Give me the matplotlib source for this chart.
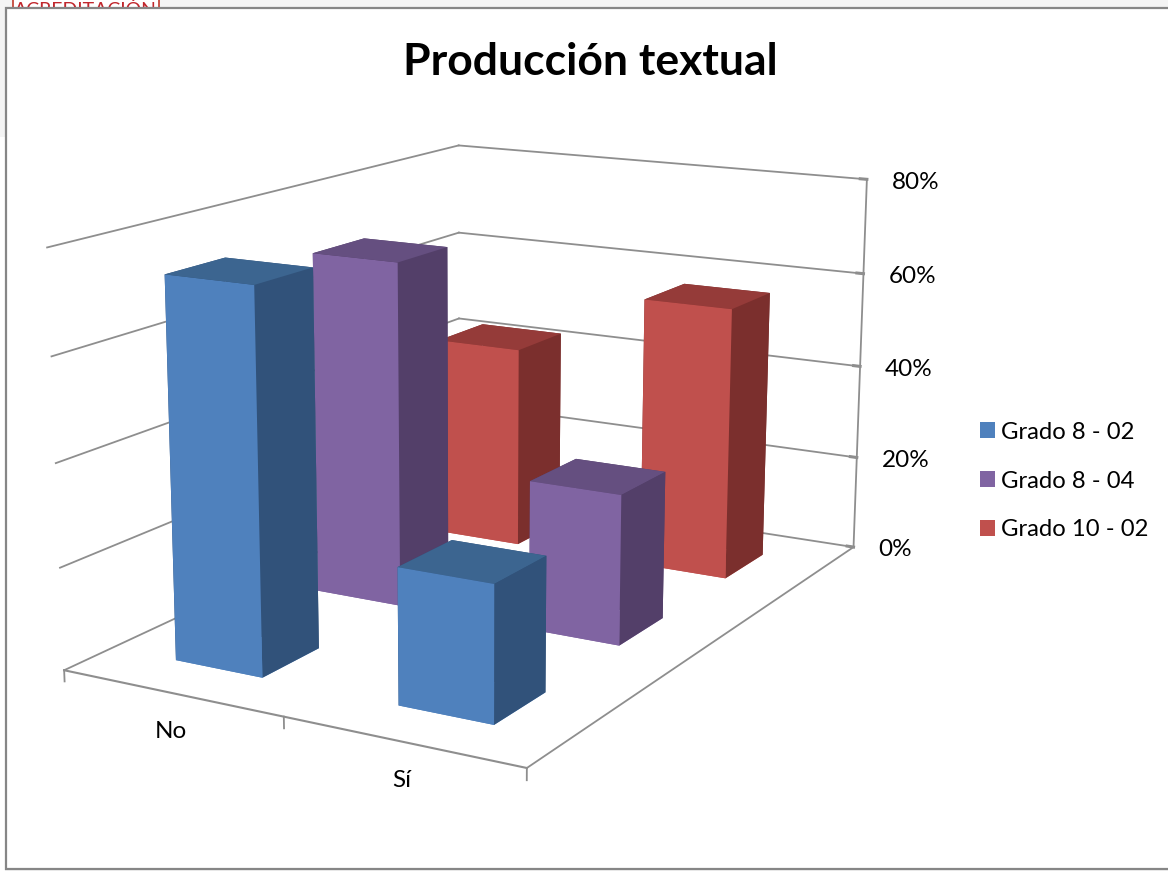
"""Produccion textual: barras 3D por grado."""
import numpy as np
import matplotlib
matplotlib.use("Agg")
import matplotlib.pyplot as plt
from matplotlib.patches import Patch, Rectangle
from mpl_toolkits.mplot3d import proj3d

categorias = ["No", "Sí"]
series = ["Grado 8 - 02", "Grado 8 - 04", "Grado 10 - 02"]
grado_8_02 = [74, 26]
grado_8_04 = [70, 30]
grado_10_02 = [43, 57]
ticks_z = [0, 20, 40, 60, 80]

# frente, lado, tapa
colores = {
    "Grado 8 - 02": ("#4F81BD", "#31527A", "#3C6590"),
    "Grado 8 - 04": ("#8064A2", "#533F69", "#654F80"),
    "Grado 10 - 02": ("#C0504D", "#7B2F2D", "#953B39"),
}
GRIS = "#8E8E8E"
W, H = 1168, 871

plt.rcParams["font.family"] = ["Lato", "DejaVu Sans"]
fig = plt.figure(figsize=(W / 100, H / 100), dpi=100)

# restos de la pagina detras del grafico
fig.patches.append(Rectangle((0, 0), 1, 1, transform=fig.transFigure, fc="#F4F4F4", ec="none", zorder=-5))
fig.patches.append(Rectangle((0, 0), 5 / W, 1 - 137 / H, transform=fig.transFigure, fc="white", ec="none", zorder=-4))
fig.patches.append(Rectangle((12.5 / W, 1 - 12 / H), 146 / W, 14 / H, transform=fig.transFigure,
                             fc="white", ec="#C0392B", lw=1.2, zorder=-3))
fig.text(85 / W, 1 - 10.5 / H, "ACREDITACIÓN", color="#C0272D", fontsize=14, ha="center", va="center", zorder=-2)
fig.patches.append(Rectangle((6 / W, 1 - 869 / H), 1.2, 861 / H, transform=fig.transFigure,
                             fc="white", ec="#868686", lw=1.6, zorder=-1))

ax = fig.add_axes([-0.00156, -0.03417, 0.81628, 1.09462], projection="3d", computed_zorder=False)
ax.patch.set_visible(False)
ax.set_axis_off()
ax.set_xlim(0, 2); ax.set_ylim(0, 3); ax.set_zlim(0, 80)
ax.view_init(elev=14.0085, azim=-60.4696, roll=-0.0608)
ax.set_proj_type("persp", focal_length=float(np.exp(-0.6755)))
ax.set_box_aspect((1.2295, 1.8332, 1.0))

# paredes y suelo
for z in ticks_z:
    ax.plot([0, 0], [0, 3], [z, z], color=GRIS, lw=1.3, zorder=1)
    ax.plot([0, 2], [3, 3], [z, z], color=GRIS, lw=1.3, zorder=1)
    ax.plot([1.97, 2], [3, 3], [z, z], color=GRIS, lw=2.2, zorder=1)
ax.plot([2, 2], [3, 3], [0, 80], color=GRIS, lw=1.3, zorder=1)
ax.plot([0, 2], [0, 0], [0, 0], color=GRIS, lw=1.5, zorder=1)
ax.plot([2, 2], [0, 3], [0, 0], color=GRIS, lw=1.3, zorder=1)
for x in range(len(categorias) + 1):
    ax.plot([x, x], [0, 0], [0, -2.2], color=GRIS, lw=1.3, zorder=1)

# barras, de atras hacia delante
valores = {"Grado 8 - 02": grado_8_02, "Grado 8 - 04": grado_8_04, "Grado 10 - 02": grado_10_02}
ancho, fondo = 0.4, 0.39
zo = 2
for j in [2, 1, 0]:
    nombre = series[j]
    fr, lado, tapa = colores[nombre]
    for i in range(len(categorias)):
        # caras: abajo, arriba, -y, +y, -x, +x
        ax.bar3d(i + 0.5 - ancho / 2, j + 0.5 - fondo / 2, 0, ancho, fondo, valores[nombre][i],
                 color=[fr, tapa, fr, lado, lado, lado], shade=False, zorder=zo,
                 edgecolor="none", linewidth=0)
        zo += 1

# etiquetas de ejes en pixeles respecto al punto proyectado
M = ax.get_proj()
for z in ticks_z:
    u, v, _ = proj3d.proj_transform(2, 3, z, M)
    ax.annotate("%d%%" % z, (u, v), xytext=(18, -2), textcoords="offset points",
                xycoords="data", fontsize=17.5, va="center", ha="left", color="black", zorder=50)
for i, c in enumerate(categorias):
    u, v, _ = proj3d.proj_transform(i + 0.5, 0, 0, M)
    ax.annotate(c, (u, v), xytext=(0, -28), textcoords="offset points",
                xycoords="data", fontsize=17.5, va="center", ha="center", color="black", zorder=50)

fig.text(590 / W, 1 - 62 / H, "Producción textual", fontsize=32, fontweight="bold", ha="center", va="center")

manejadores = [Patch(fc=colores[s][0], ec="none") for s in series]
fig.legend(manejadores, series, loc="center left", bbox_to_anchor=(980 / W, 1 - 481 / H), frameon=False,
           fontsize=17.2, handlelength=0.63, handleheight=0.63, handletextpad=0.25, labelspacing=1.17,
           borderpad=0, borderaxespad=0)

fig.savefig("out.png", dpi=100)
